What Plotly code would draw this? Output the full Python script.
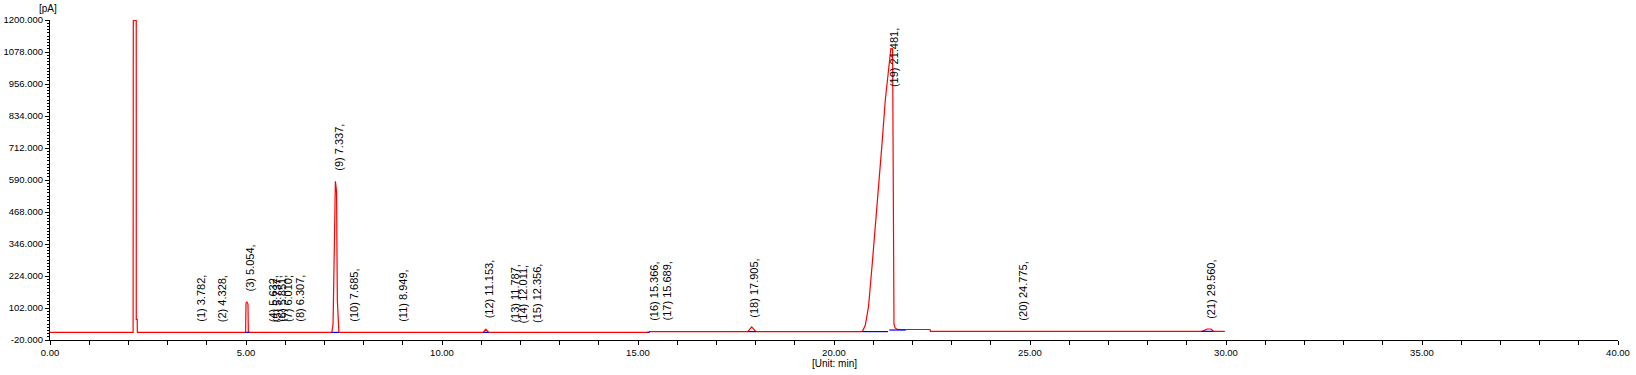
import plotly.graph_objects as go

# Chromatogram signal (time in min, signal in pA)
time_min = [0.0, 2.12, 2.125, 2.20, 2.201, 2.225, 2.228,
            4.99, 5.00, 5.02, 5.05, 5.06,
            7.19, 7.22, 7.23, 7.26, 7.28, 7.30, 7.31, 7.33, 7.35, 7.37,
            11.05, 11.12, 11.19,
            15.28, 15.29,
            17.80, 17.90, 18.01,
            20.70, 20.73, 20.80, 20.88, 20.97, 21.05, 21.14, 21.22, 21.31, 21.39, 21.45,
            21.495, 21.50, 21.51, 21.53, 21.56, 21.62, 22.45, 22.46,
            29.40, 29.52, 29.62, 29.68, 29.97]
signal_pa = [9, 9, 1198, 1198, 59, 59, 9,
             9, 120, 126, 118, 9,
             9, 40, 121, 389, 585, 560, 542, 133, 30, 9,
             9, 21, 9,
             9, 12,
             12, 30, 12,
             12, 14, 37, 107, 260, 400, 553, 719, 897, 1024, 1091,
             1090, 847, 182, 41, 26, 20, 20, 13,
             13, 22, 22, 13, 13]

# Integration baselines (blue segments): start, end, level
base_start = [4.98, 7.19, 11.05, 15.24, 17.80, 20.72, 21.41, 29.37]
base_end = [5.10, 7.37, 11.19, 15.29, 18.01, 21.38, 21.83, 29.68]
base_level = [9, 9, 9, 9, 12, 12, 18, 13]

# Peak labels
peak_num = list(range(1, 22))
peak_rt = [3.782, 4.328, 5.054, 5.632, 5.737, 5.851, 6.010, 6.307, 7.337, 7.685,
           8.949, 11.153, 11.787, 12.011, 12.356, 15.366, 15.689, 17.905, 21.481,
           24.775, 29.560]
label_base = [41, 41, 156, 41, 41, 41, 41, 41, 618, 41,
              41, 54, 37, 37, 37, 45, 45, 59, 935,
              45, 54]

x_ticks = [0, 5, 10, 15, 20, 25, 30, 35, 40]
y_ticks = [-20, 102, 224, 346, 468, 590, 712, 834, 956, 1078, 1200]

fig = go.Figure()
fig.add_trace(go.Scatter(x=time_min, y=signal_pa, mode="lines",
                         line=dict(color="#ff0000", width=1.2), hoverinfo="skip"))
for s, e, lv in zip(base_start, base_end, base_level):
    fig.add_trace(go.Scatter(x=[s, e], y=[lv, lv], mode="lines",
                             line=dict(color="#0000ff", width=1.2), hoverinfo="skip"))

FONT = "Arial, Liberation Sans, sans-serif"
annots = []
for n, rt, yb in zip(peak_num, peak_rt, label_base):
    annots.append(dict(x=rt, y=yb, xref="x", yref="y", text=f"({n}) {rt:.3f},",
                       textangle=-90, showarrow=False, xanchor="center", yanchor="bottom",
                       xshift=2, font=dict(family=FONT, size=11, color="#000000")))
annots.append(dict(x=0, y=1, xref="paper", yref="paper", text="[pA]", showarrow=False,
                   xanchor="center", yanchor="middle", xshift=-2, yshift=12,
                   font=dict(family=FONT, size=10, color="#000000")))
annots.append(dict(x=0.5, y=0, xref="paper", yref="paper", text="[Unit: min]", showarrow=False,
                   xanchor="center", yanchor="middle", yshift=-23,
                   font=dict(family=FONT, size=10, color="#000000")))

fig.update_layout(
    width=1636, height=375, autosize=False,
    margin=dict(l=50, r=18, t=20, b=35, autoexpand=False),
    plot_bgcolor="white", paper_bgcolor="white",
    showlegend=False,
    annotations=annots,
    xaxis=dict(range=[0, 40], tickvals=x_ticks, ticktext=[f"{v:.2f}" for v in x_ticks],
               automargin=False,
               showgrid=False, zeroline=False, showline=True, linecolor="black", linewidth=1,
               ticks="outside", ticklen=4, tickcolor="black",
               minor=dict(dtick=1, ticks="outside", ticklen=4, tickcolor="black", showgrid=False),
               tickfont=dict(family=FONT, size=9.5, color="#000000")),
    yaxis=dict(range=[-20, 1200], tickvals=y_ticks, ticktext=[f"{v:.3f}" for v in y_ticks],
               automargin=False,
               showgrid=False, zeroline=False, showline=True, linecolor="black", linewidth=1,
               ticks="outside", ticklen=4, tickcolor="black",
               minor=dict(tick0=-20, dtick=12.2, ticks="outside", ticklen=2, tickcolor="black", showgrid=False),
               tickfont=dict(family=FONT, size=9.5, color="#000000")),
)
fig.write_html("out.html", config={"displayModeBar": False},
               post_script="document.body.style.margin='0';document.body.style.overflow='hidden';")
